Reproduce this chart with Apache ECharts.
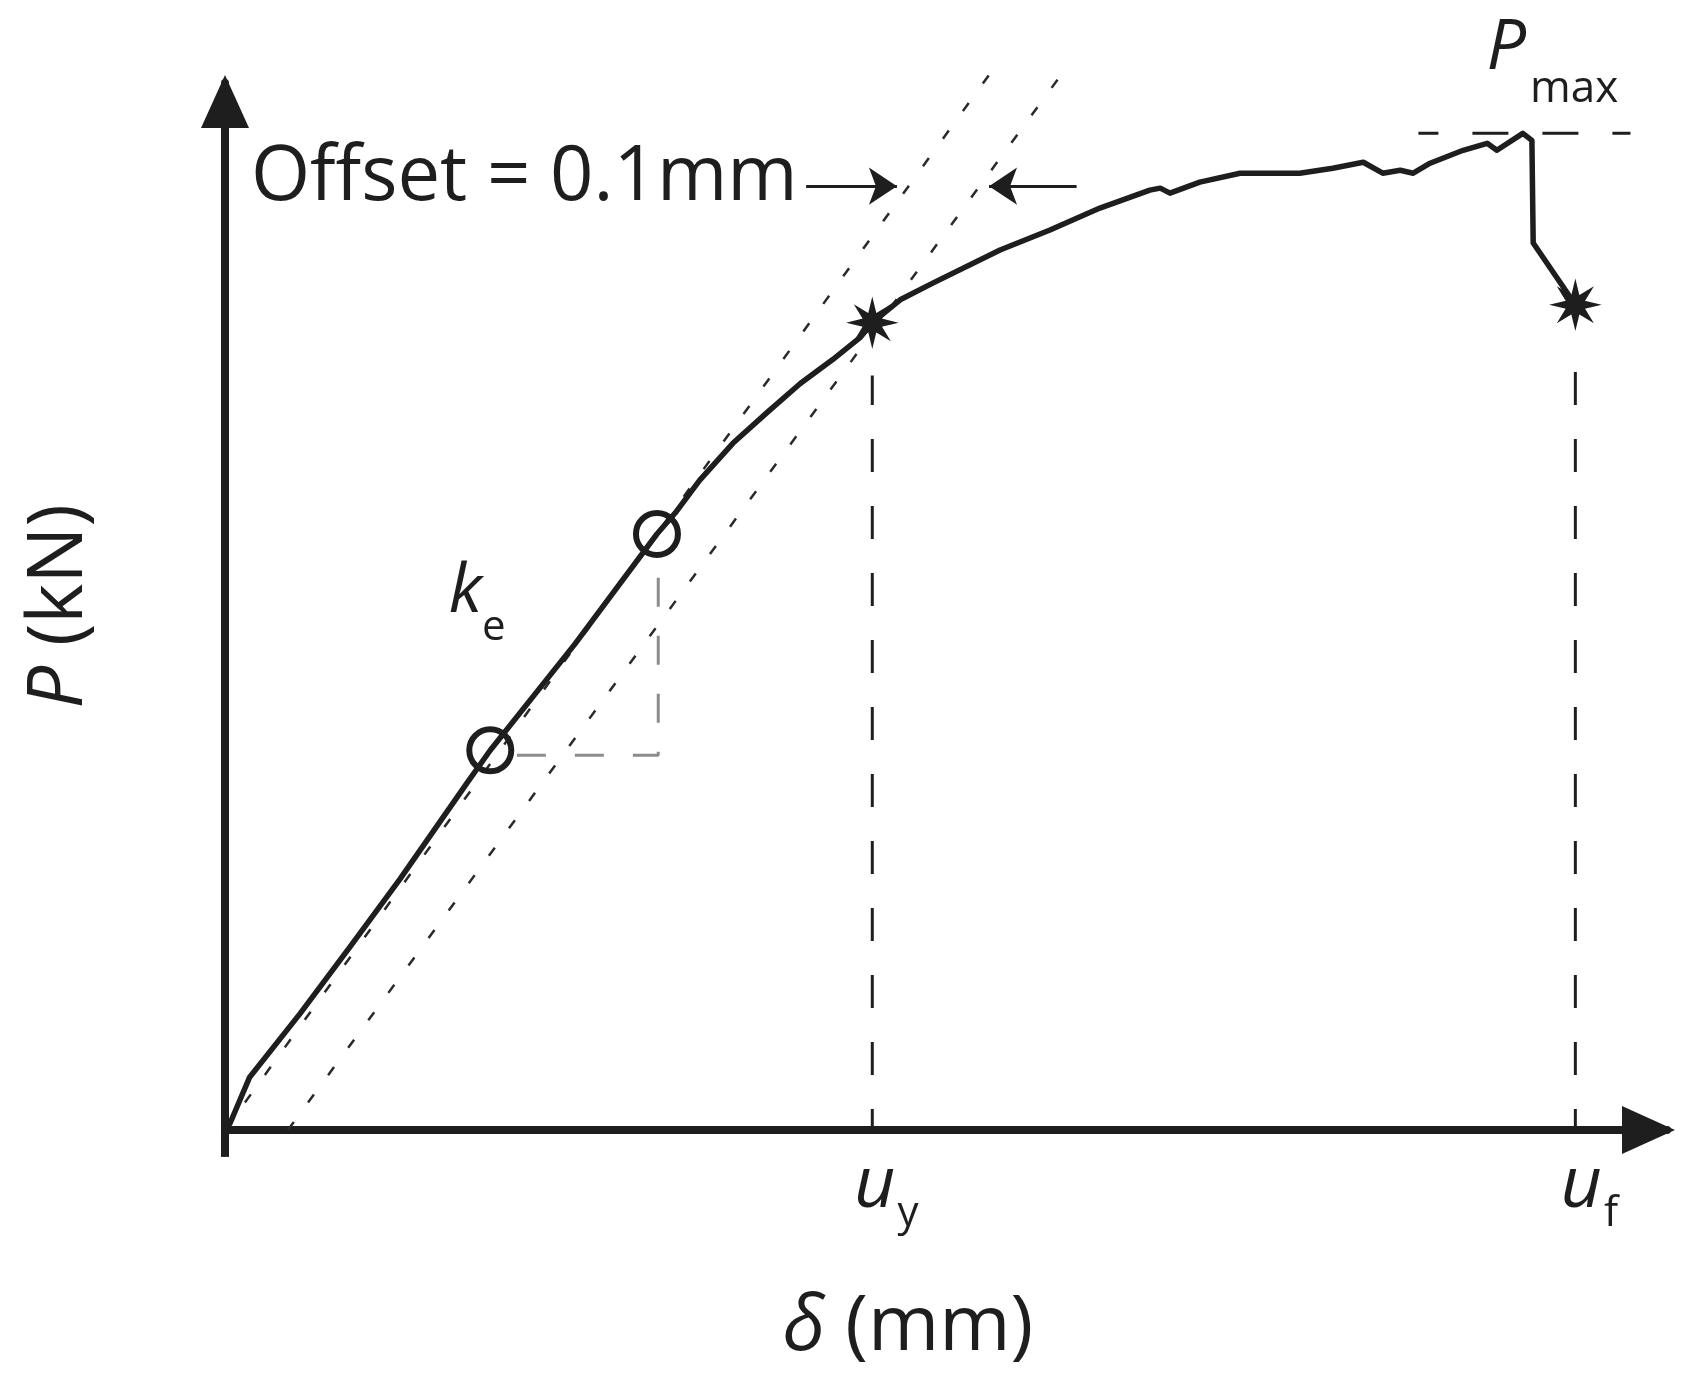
<!DOCTYPE html>
<html>
<head>
<meta charset="utf-8">
<script src="https://cdn.jsdelivr.net/npm/echarts@6/dist/echarts.min.js"></script>
<style>
  html, body { margin: 0; padding: 0; background: #fff; }
  #chart { width: 1695px; height: 1393px; }
</style>
</head>
<body>
<div id="chart"></div>
<script>
// load-displacement curve, x in mm, y in kN
const curveX = [0, 0.008, 0.038, 0.116, 0.193, 0.270, 0.373, 0.409, 0.540, 0.666, 0.694, 0.732, 0.783, 0.836, 0.887, 0.937, 0.979, 0.998, 1.041, 1.092, 1.195, 1.272, 1.349, 1.426, 1.442, 1.457, 1.503, 1.565, 1.657, 1.708, 1.755, 1.785, 1.812, 1.832, 1.858, 1.909, 1.946, 1.961, 2.001, 2.015, 2.017, 2.082]
const curveY = [0, 0.07, 0.53, 1.17, 1.84, 2.52, 3.48, 3.81, 4.88, 5.98, 6.19, 6.52, 6.89, 7.20, 7.49, 7.73, 7.95, 8.10, 8.33, 8.50, 8.83, 9.03, 9.25, 9.43, 9.45, 9.40, 9.51, 9.60, 9.60, 9.65, 9.71, 9.60, 9.63, 9.60, 9.70, 9.83, 9.90, 9.83, 10.00, 9.93, 8.90, 8.28]

// yield and failure points
const uy = 0.998, Py = 8.10
const uf = 2.082, Pf = 8.28
const Pmax = 10.0
// tops of the dashed drop lines
const uyTop = 7.57
const ufTop = 7.73

// elastic stiffness line and 0.1 mm offset line
const elasticX = [0, 1.178]
const elasticY = [0, 10.585]
const offsetX = [0.097, 1.289]
const offsetY = [0, 10.585]

// points used for k_e and the little slope triangle
const keX = [0.409, 0.666]
const keY = [3.81, 5.98]
const triX = [0.450, 0.668, 0.668]
const triY = [3.76, 3.76, 5.59]

// Pmax reference line
const pmaxLineX = [1.840, 2.167]

// tick labels on the x axis
const tickX = [uy, uf]
const tickSub = ['y', 'f']

// arrows that point at the offset
const arrowFrom = [[0.896, 9.47], [1.313, 9.47]]
const arrowTo = [[1.036, 9.47], [1.178, 9.47]]

// text notes
const noteX = [0.883, 1.945, 0.345]
const noteY = [9.544, 10.846, 5.39]
const noteText = ['Offset = 0.1mm', '{p|P}{s1|max}', '{k|k}{s2|e}']
const noteAlign = ['right', 'left', 'left']

const font = 'Open Sans'
const ink = '#1e1e1e'

const pair = (xs, ys) => xs.map((x, i) => [x, ys[i]])

const star = 'path://M20,10L13.7,11.53L17.07,17.07L11.53,13.7L10,20L8.47,13.7L2.93,17.07L6.3,11.53L0,10L6.3,8.47L2.93,2.93L8.47,6.3L10,0L11.53,6.3L17.07,2.93L13.7,8.47Z'

const chart = echarts.init(document.getElementById('chart'))

const axisLine = {
  lineStyle: { color: ink, width: 8 },
  symbol: ['none', 'triangle'],
  symbolSize: [48, 53],
  symbolOffset: [0, -18.5]
}

const option = {
  animation: false,
  backgroundColor: '#ffffff',
  grid: { left: 225, right: 28, top: 83, bottom: 263, outerBoundsMode: 'none' },
  xAxis: {
    type: 'value',
    min: 0,
    max: 2.2233,
    name: '{i|δ} (mm)',
    nameLocation: 'middle',
    nameGap: 156,
    nameTextStyle: {
      fontFamily: font, fontSize: 77, color: ink, lineHeight: 84,
      padding: [0, 76, 0, 0],
      rich: { i: { fontStyle: 'italic', fontFamily: font, fontSize: 77, color: ink, lineHeight: 84 } }
    },
    axisLine: axisLine,
    axisTick: { show: false },
    splitLine: { show: false },
    axisLabel: {
      customValues: tickX,
      margin: 16,
      formatter: (v) => '{u|u}{s|' + tickSub[tickX.indexOf(v)] + '}',
      rich: {
        u: { fontFamily: font, fontStyle: 'italic', fontSize: 72, color: ink, lineHeight: 80, padding: [0, 0, 0, 28] },
        s: { fontFamily: font, fontSize: 42, color: ink, lineHeight: 42, padding: [56, 0, 0, 2] }
      }
    }
  },
  yAxis: {
    type: 'value',
    min: 0,
    max: 10.505,
    name: '{i|P} (kN)',
    nameLocation: 'middle',
    nameRotate: 90,
    nameGap: 123,
    nameTextStyle: {
      fontFamily: font, fontSize: 76, color: ink, lineHeight: 84,
      rich: { i: { fontStyle: 'italic', fontFamily: font, fontSize: 76, color: ink, lineHeight: 84 } }
    },
    axisLine: axisLine,
    axisTick: { show: false },
    axisLabel: { show: false },
    splitLine: { show: false }
  },
  series: [
    {
      name: 'yTail',
      type: 'line',
      clip: false,
      data: [[0, 0], [0, -0.27]],
      symbol: 'none',
      lineStyle: { color: ink, width: 8 },
      z: 1
    },
    {
      name: 'elastic',
      type: 'line',
      clip: false,
      data: pair(elasticX, elasticY),
      symbol: 'none',
      lineStyle: { color: '#2a2a2a', width: 2.5, type: [10, 24] },
      z: 2
    },
    {
      name: 'offset',
      type: 'line',
      clip: false,
      data: pair(offsetX, offsetY),
      symbol: 'none',
      lineStyle: { color: '#2a2a2a', width: 2.5, type: [10, 24] },
      z: 2
    },
    {
      name: 'slope',
      type: 'line',
      data: pair(triX, triY),
      symbol: 'none',
      lineStyle: { color: '#8c8c8c', width: 3, type: [29, 29] },
      z: 2
    },
    {
      name: 'uy',
      type: 'line',
      data: [[uy, 0], [uy, uyTop]],
      symbol: 'none',
      lineStyle: { color: ink, width: 3, type: [33, 34], dashOffset: 12 },
      z: 2
    },
    {
      name: 'uf',
      type: 'line',
      data: [[uf, 0], [uf, ufTop]],
      symbol: 'none',
      lineStyle: { color: ink, width: 3, type: [33, 34], dashOffset: 12 },
      z: 2
    },
    {
      name: 'Pmax',
      type: 'line',
      data: pmaxLineX.map(x => [x, Pmax]),
      symbol: 'none',
      lineStyle: { color: ink, width: 3, type: [36, 34], dashOffset: 16 },
      z: 2
    },
    {
      name: 'curve',
      type: 'line',
      data: pair(curveX, curveY),
      symbol: 'none',
      lineStyle: { color: ink, width: 5.5, join: 'round', cap: 'round' },
      z: 5
    },
    {
      name: 'ke',
      type: 'scatter',
      data: pair(keX, keY),
      symbol: 'circle',
      symbolSize: 42,
      itemStyle: { color: 'rgba(0,0,0,0)', borderColor: ink, borderWidth: 6, opacity: 1 },
      z: 6
    },
    {
      name: 'stars',
      type: 'scatter',
      data: [[uy, Py], [uf, Pf]],
      symbol: star,
      symbolSize: 44,
      itemStyle: { color: ink, borderColor: ink, borderWidth: 2, opacity: 1 },
      z: 7
    },
    {
      name: 'arrows',
      type: 'lines',
      coordinateSystem: 'cartesian2d',
      data: arrowFrom.map((p, i) => ({ coords: [p, arrowTo[i]] })),
      symbol: ['none', 'arrow'],
      symbolSize: 28,
      lineStyle: { color: ink, width: 3, opacity: 1 },
      z: 6
    },
    {
      name: 'notes',
      type: 'scatter',
      clip: false,
      symbolSize: 0,
      silent: true,
      itemStyle: { opacity: 1 },
      data: noteX.map((x, i) => ({
        value: [x, noteY[i]],
        label: { formatter: noteText[i], align: noteAlign[i] }
      })),
      label: {
        show: true,
        position: 'inside',
        verticalAlign: 'middle',
        fontFamily: font,
        fontSize: 76,
        color: ink,
        rich: {
          p: { fontFamily: font, fontStyle: 'italic', fontSize: 70, color: ink, lineHeight: 80 },
          s1: { fontFamily: font, fontSize: 44, color: ink, lineHeight: 44, padding: [80, 0, 0, 4] },
          k: { fontFamily: font, fontStyle: 'italic', fontSize: 68, color: ink, lineHeight: 80 },
          s2: { fontFamily: font, fontSize: 42, color: ink, lineHeight: 42, padding: [70, 0, 0, 0] }
        }
      },
      z: 8
    }
  ]
}

chart.setOption(option)
window.addEventListener('resize', () => chart.resize())
</script>
</body>
</html>
